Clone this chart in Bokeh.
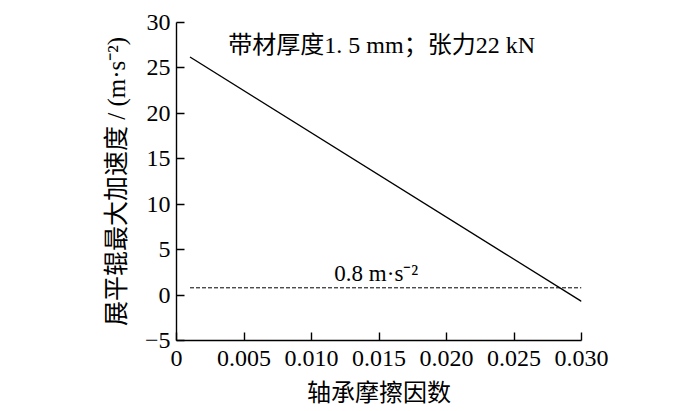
from bokeh.plotting import figure
from bokeh.models import Range1d, FixedTicker, Label
from bokeh.embed import file_html
from bokeh.resources import INLINE

# data
friction = [0.001, 0.030]
accel = [26.2, -0.7]
limit_x = [0.001, 0.030]
limit_y = [0.8, 0.8]
x_ticks = [0, 0.005, 0.010, 0.015, 0.020, 0.025, 0.030]
x_tick_labels = ["0", "0.005", "0.010", "0.015", "0.020", "0.025", "0.030"]
y_ticks = [-5, 0, 5, 10, 15, 20, 25, 30]
y_tick_labels = ["\u22125", "0", "5", "10", "15", "20", "25", "30"]
title_text = "带材厚度1. 5 mm；张力22 kN"
limit_text = "0.8 m·s\u207b\u00b2"
x_label = "轴承摩擦因数"
y_label = "展平辊最大加速度 / (m·s\u207b\u00b2)"

FONT = "'Liberation Serif', 'Noto Sans CJK SC'"

p = figure(width=692, height=408, output_backend="svg", toolbar_location=None,
           x_range=Range1d(0, 0.030), y_range=Range1d(-5, 30),
           min_border_left=176, min_border_right=111, min_border_top=22, min_border_bottom=67)
p.outline_line_color = None
p.grid.visible = False
p.background_fill_color = "white"
p.border_fill_color = "white"

p.line(friction, accel, line_color="black", line_width=1.4)
p.line(limit_x, limit_y, line_color="black", line_width=1, line_dash="4 2")

for ax in (p.xaxis[0], p.yaxis[0]):
    ax.axis_line_color = "black"
    ax.axis_line_width = 1.4
    ax.major_tick_in = 8
    ax.major_tick_out = 0
    ax.minor_tick_in = 0
    ax.minor_tick_out = 0
    ax.major_tick_line_color = "black"
    ax.major_tick_line_width = 1.4
    ax.major_label_text_font = FONT
    ax.major_label_text_font_size = "24px"
    ax.major_label_text_color = "black"
    ax.axis_label_text_font = FONT
    ax.axis_label_text_font_size = "24px"
    ax.axis_label_text_font_style = "normal"
    ax.axis_label_text_color = "black"

p.xaxis.ticker = FixedTicker(ticks=x_ticks)
p.xaxis.major_label_overrides = dict(zip(x_ticks, x_tick_labels))
p.yaxis.ticker = FixedTicker(ticks=y_ticks)
p.yaxis.major_label_overrides = dict(zip(y_ticks, y_tick_labels))
p.xaxis.axis_label = x_label
p.yaxis.axis_label = y_label
p.yaxis.axis_label_text_font_size = "25px"
p.xaxis.major_label_standoff = 10
p.yaxis.major_label_standoff = 6
p.xaxis.axis_label_standoff = 11
p.yaxis.axis_label_standoff = 12

p.add_layout(Label(x=0.0152, y=27.5, text=title_text, text_align="center",
                   text_baseline="middle", text_font=FONT, text_font_size="24px",
                   text_color="black"))
p.add_layout(Label(x=0.0148, y=1.0, text=limit_text, text_align="center",
                   text_baseline="bottom", text_font=FONT, text_font_size="23px",
                   text_color="black"))

open("out.html", "w").write(file_html(p, INLINE))
